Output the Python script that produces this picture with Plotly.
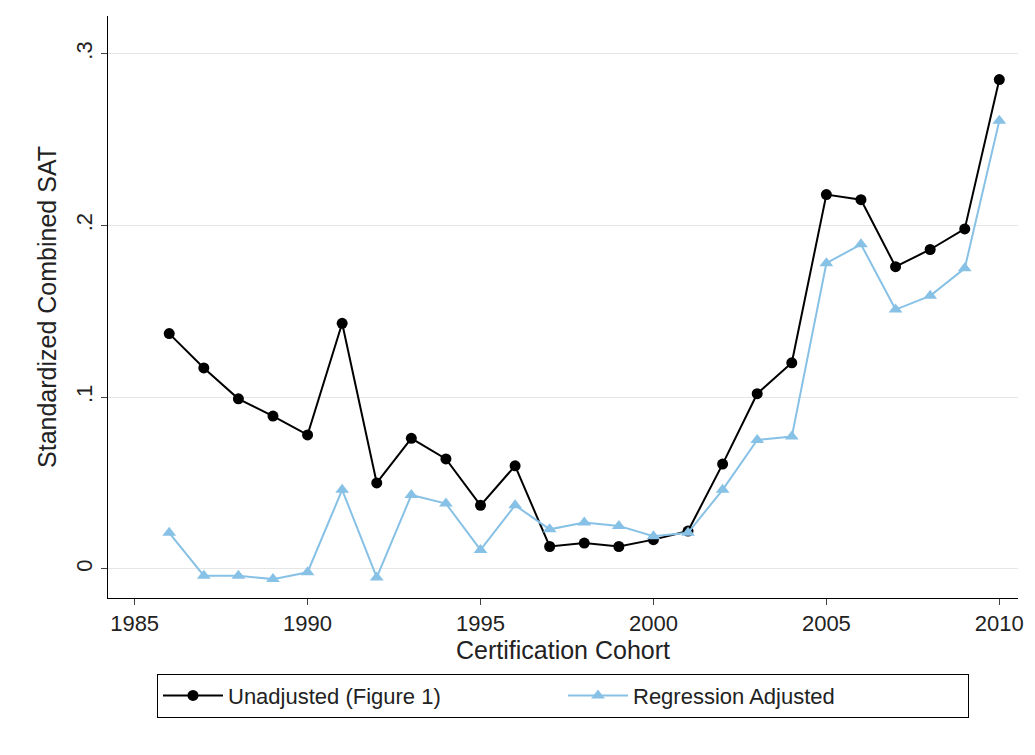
import plotly.graph_objects as go

years = list(range(1986, 2011))
unadjusted = [.137, .117, .099, .089, .078, .143, .050, .076, .064, .037, .060, .013, .015, .013, .017, .022,
              .061, .102, .120, .218, .215, .176, .186, .198, .285]
adjusted = [.021, -.004, -.004, -.006, -.002, .046, -.005, .043, .038, .011, .037, .023, .027, .025, .019, .021,
            .046, .075, .077, .178, .189, .151, .159, .175, .261]

fig = go.Figure()
fig.add_trace(go.Scatter(x=years, y=unadjusted, mode="lines+markers", name="Unadjusted (Figure 1)",
                         line=dict(color="black", width=2), marker=dict(color="black", size=11, symbol="circle")))
fig.add_trace(go.Scatter(x=years, y=adjusted, mode="lines+markers", name="Regression Adjusted",
                         line=dict(color="#87c1e6", width=2), marker=dict(color="#87c1e6", size=12, symbol="triangle-up")))
fig.update_layout(
    width=1035, height=755, paper_bgcolor="white", plot_bgcolor="white",
    margin=dict(l=100, r=25, t=8, b=165),
    font=dict(family="Liberation Sans, Arial", size=21, color="#222"),
    xaxis=dict(range=[1984.23, 2010.54], tickvals=[1985, 1990, 1995, 2000, 2005, 2010], showgrid=False,
               showline=True, linecolor="black", ticks="outside", ticklen=6, zeroline=False,
               tickfont=dict(size=22), title=dict(text="Certification Cohort", standoff=0)),
    yaxis=dict(range=[-0.017, 0.322], tickvals=[0, .1, .2, .3], ticktext=["0", ".1", ".2", ".3"], tickangle=-90,
               showgrid=True, gridcolor="#e6e6e6", showline=True, linecolor="black", ticks="outside", ticklen=6,
               tickfont=dict(size=22), zeroline=False, title=dict(text="Standardized Combined SAT", standoff=8)),
    legend=dict(orientation="h", x=0.5, xanchor="center", y=-0.13, yanchor="top", bordercolor="black",
                borderwidth=1, font=dict(size=22), itemwidth=60, entrywidth=330, entrywidthmode="pixels"),
)
fig.write_html("out.html")
